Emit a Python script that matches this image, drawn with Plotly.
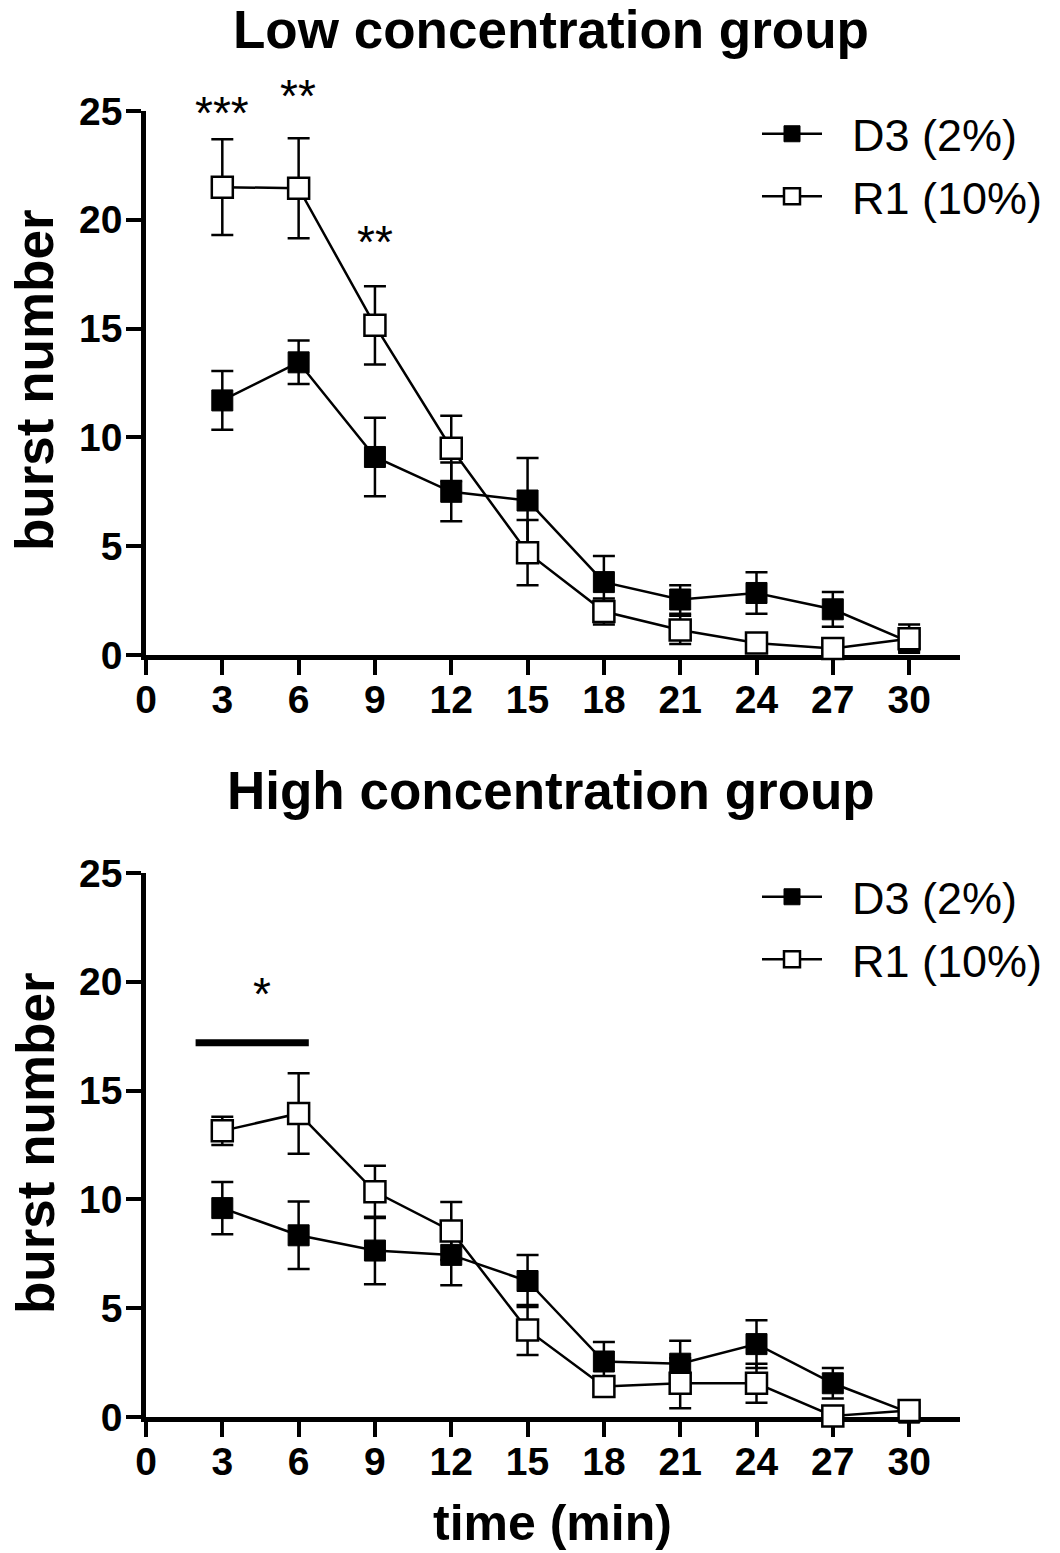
import plotly.graph_objects as go

time = [3, 6, 9, 12, 15, 18, 21, 24, 27, 30]

# Low concentration group
low_d3 = [11.7, 13.45, 9.1, 7.5, 7.1, 3.35, 2.55, 2.85, 2.1, 0.6]
low_d3_err = [1.35, 1.0, 1.8, 1.35, 1.95, 1.2, 0.65, 0.95, 0.8, 0.3]
low_r1 = [21.5, 21.45, 15.15, 9.5, 4.7, 2.0, 1.15, 0.55, 0.3, 0.75]
low_r1_err = [2.2, 2.3, 1.8, 1.5, 1.5, 0.6, 0.65, 0.2, 0.2, 0.65]

# High concentration group
high_d3 = [9.6, 8.35, 7.65, 7.45, 6.25, 2.55, 2.45, 3.35, 1.55, 0.2]
high_d3_err = [1.2, 1.55, 1.55, 1.4, 1.2, 0.9, 1.05, 1.1, 0.7, 0.2]
high_r1 = [13.15, 13.95, 10.35, 8.55, 4.0, 1.4, 1.55, 1.55, 0.05, 0.3]
high_r1_err = [0.65, 1.85, 1.2, 1.33, 1.15, 0.35, 1.15, 0.9, 0.3, 0.2]

names = ["D3 (2%)", "R1 (10%)"]
x_ticks = [0, 3, 6, 9, 12, 15, 18, 21, 24, 27, 30]
y_ticks = [0, 5, 10, 15, 20, 25]

FONT = "Liberation Sans, Arial, sans-serif"
NB = "\u00a0\u00a0"

fig = go.Figure()

def add_pair(d3, d3e, r1, r1e, xa, ya, legend, grp):
    fig.add_trace(go.Scatter(
        x=time, y=d3, name=NB + names[0], mode="lines+markers",
        xaxis=xa, yaxis=ya, legend=legend, legendgroup=grp + "a", cliponaxis=False,
        line=dict(color="black", width=2.5),
        marker=dict(symbol="square", size=21, color="black",
                    line=dict(color="black", width=1)),
        error_y=dict(type="data", array=d3e, visible=True,
                     color="black", thickness=2.5, width=11),
    ))
    fig.add_trace(go.Scatter(
        x=time, y=r1, name=NB + names[1], mode="lines+markers",
        xaxis=xa, yaxis=ya, legend=legend, legendgroup=grp + "b", cliponaxis=False,
        line=dict(color="black", width=2.5),
        marker=dict(symbol="square", size=21, color="white",
                    line=dict(color="black", width=2.5)),
        error_y=dict(type="data", array=r1e, visible=True,
                     color="black", thickness=2.5, width=11),
    ))

add_pair(low_d3, low_d3_err, low_r1, low_r1_err, "x", "y", "legend", "low")
add_pair(high_d3, high_d3_err, high_r1, high_r1_err, "x2", "y2", "legend2", "high")

axis_common = dict(
    showgrid=False, zeroline=False, showline=True, linecolor="black",
    linewidth=4.5, ticks="outside", ticklen=15, tickwidth=4, tickcolor="black",
    layer="below traces",
    tickfont=dict(family=FONT, size=39, color="black", weight="bold"),
)

PX_TOP, PX_BOT, H = 111, 1417, 1306
def py(px):
    return (PX_BOT - px) / H
def pxr(px):
    return (px - 146) / 814

leg_common = dict(xanchor="left", yanchor="top",
                  font=dict(family=FONT, size=45, color="black"),
                  itemwidth=60, tracegroupgap=1, bgcolor="rgba(0,0,0,0)")

fig.update_layout(
    width=1060, height=1553,
    margin=dict(l=146, r=100, t=111, b=136),
    paper_bgcolor="white", plot_bgcolor="white",
    font=dict(family=FONT, color="black"),
    xaxis=dict(domain=[0, 1], range=[0, 32], tickvals=x_ticks, anchor="y",
               ticklabelstandoff=-9, **axis_common),
    yaxis=dict(domain=[py(655), 1], range=[0, 25], tickvals=y_ticks, anchor="x",
               ticklabelstandoff=-4, **axis_common),
    xaxis2=dict(domain=[0, 1], range=[0, 32], tickvals=x_ticks, anchor="y2",
                ticklabelstandoff=-9, **axis_common),
    yaxis2=dict(domain=[0, py(873)], range=[0, 25], tickvals=y_ticks, anchor="x2",
                ticklabelstandoff=-4, **axis_common),
    legend=dict(x=pxr(757), y=py(98), **leg_common),
    legend2=dict(x=pxr(757), y=py(861), **leg_common),
    showlegend=True,
)

ann = []
ann.append(dict(text="<b>Low concentration group</b>", xref="paper", yref="paper",
                x=pxr(551), y=py(30), xanchor="center", yanchor="middle",
                showarrow=False, font=dict(family=FONT, size=53, color="black")))
ann.append(dict(text="<b>High concentration group</b>", xref="paper", yref="paper",
                x=pxr(551), y=py(791), xanchor="center", yanchor="middle",
                showarrow=False, font=dict(family=FONT, size=53, color="black")))
for yc in (380, 1143):
    ann.append(dict(text="<b>burst number</b>", xref="paper", yref="paper",
                    x=pxr(35), y=py(yc), xanchor="center", yanchor="middle",
                    textangle=-90, showarrow=False,
                    font=dict(family=FONT, size=53, color="black")))
ann.append(dict(text="<b>time (min)</b>", xref="paper", yref="paper",
                x=pxr(552), y=py(1523), xanchor="center", yanchor="middle",
                showarrow=False, font=dict(family=FONT, size=50, color="black")))
# significance stars (pixel positions -> paper)
stars = [("***", 222, 113), ("**", 298, 96), ("**", 375, 242), ("*", 262, 994)]
for t, xp, yp in stars:
    ann.append(dict(text=t, xref="paper", yref="paper", x=pxr(xp), y=py(yp),
                    xanchor="center", yanchor="middle", showarrow=False,
                    font=dict(family=FONT, size=46, color="black")))
fig.update_layout(annotations=ann)

fig.add_shape(type="line", xref="x2", yref="y2", x0=1.95, x1=6.4, y0=17.2, y1=17.2,
              line=dict(color="black", width=7))

fig.write_html("out.html", config={"displayModeBar": False},
               post_script="document.body.style.margin='0';")
